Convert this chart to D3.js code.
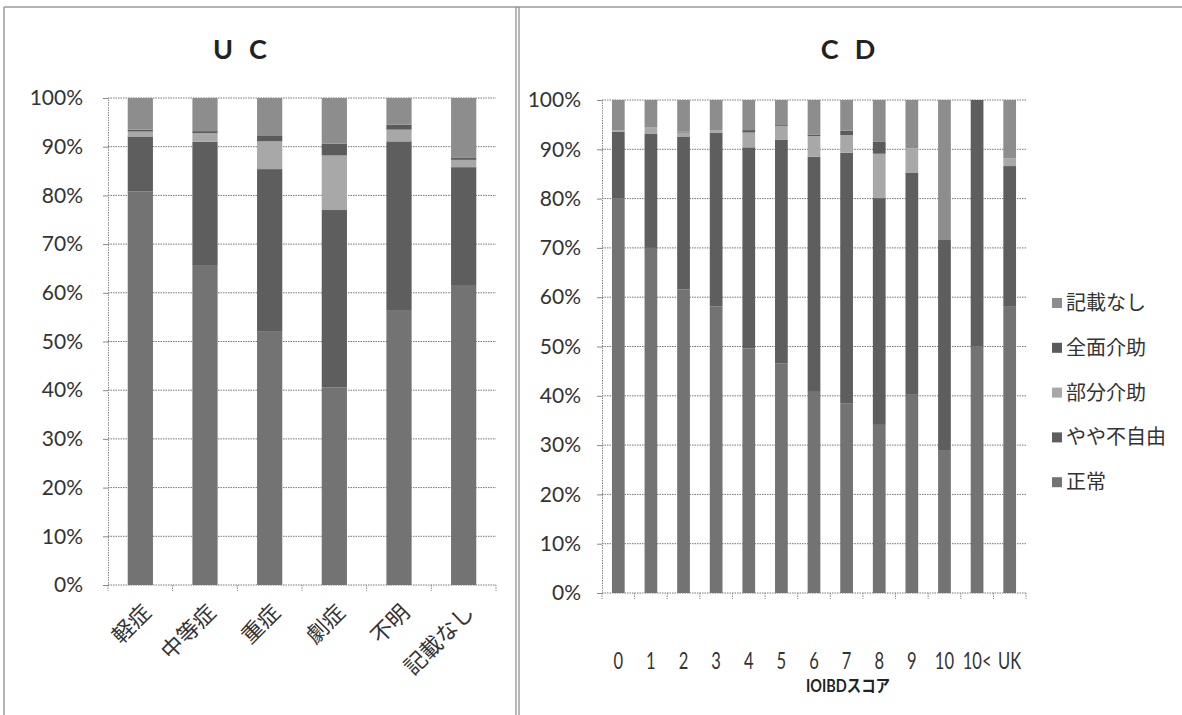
<!DOCTYPE html>
<html>
<head>
<meta charset="utf-8">
<script src="https://cdn.jsdelivr.net/npm/d3@7/dist/d3.min.js"></script>
<style>
  body { margin: 0; background: #fff; }
  svg text { font-family: Lato, "Noto Sans CJK JP", sans-serif; fill: #333; }
</style>
</head>
<body>
<svg id="chart"></svg>
<script>
const keys = ["正常", "やや不自由", "部分介助", "全面介助", "記載なし"];

// UC panel
const ucCategories = ["軽症", "中等症", "重症", "劇症", "不明", "記載なし"];
const ucNormal  = [80.8, 65.7, 52.0, 40.6, 56.3, 61.6];
const ucSlight  = [11.3, 25.3, 33.4, 36.4, 34.8, 24.2];
const ucPartial = [1.0, 1.8, 5.7, 11.2, 2.4, 1.5];
const ucFull    = [0.4, 0.4, 1.1, 2.4, 1.0, 0.4];
const ucNone    = [6.5, 6.8, 7.8, 9.4, 5.5, 12.3];

// CD panel
const cdCategories = ["0", "1", "2", "3", "4", "5", "6", "7", "8", "9", "10", "10<", "UK"];
const cdNormal  = [80.0, 70.0, 61.6, 58.1, 49.6, 46.6, 40.8, 38.5, 34.1, 40.2, 29.0, 50, 58.2];
const cdSlight  = [13.6, 23.1, 30.9, 35.3, 40.8, 45.3, 47.7, 50.8, 46.0, 45.1, 42.6, 50, 28.4];
const cdPartial = [0.3, 1.4, 0.9, 0.5, 3.0, 2.8, 4.2, 3.6, 9.0, 4.9, 0, 0, 1.6];
const cdFull    = [0, 0, 0.2, 0, 0.5, 0.2, 0.3, 0.9, 2.5, 0, 0, 0, 0];
const cdNone    = [6.1, 5.5, 6.4, 6.1, 6.1, 5.1, 7.0, 6.2, 8.4, 9.8, 28.4, 0, 11.8];

const yTicks = [0, 10, 20, 30, 40, 50, 60, 70, 80, 90, 100];

const colors = {
    "正常": "#737373",
    "やや不自由": "#5e5e5e",
    "部分介助": "#a8a8a8",
    "全面介助": "#5b5b5b",
    "記載なし": "#8d8d8d"
};

const width = 1182;
const height = 715;

const svg = d3.select("#chart")
    .attr("width", width)
    .attr("height", height);

// frame lines from the scan
svg.append("line").attr("x1", 4).attr("x2", width).attr("y1", 7).attr("y2", 7)
    .attr("stroke", "#999").attr("stroke-width", 1.5);
svg.append("line").attr("x1", 4).attr("x2", 4).attr("y1", 7).attr("y2", height)
    .attr("stroke", "#999").attr("stroke-width", 1.5);
[516, 519].forEach(x => {
    svg.append("line").attr("x1", x).attr("x2", x).attr("y1", 7).attr("y2", height)
        .attr("stroke", "#888").attr("stroke-width", 1.2);
});

const buildRows = (cats, a, b, c, d, e) => cats.map((cat, i) => ({
    cat: cat,
    "正常": a[i], "やや不自由": b[i], "部分介助": c[i], "全面介助": d[i], "記載なし": e[i]
}));

const drawPanel = (opt) => {
    const rows = buildRows(opt.cats, ...opt.series);
    const series = d3.stack().keys(keys)(rows);

    const x = d3.scaleBand()
        .domain(opt.cats)
        .range([opt.x0, opt.x1])
        .paddingInner(0.61)
        .paddingOuter(0.305);

    const y = d3.scaleLinear()
        .domain([0, 100])
        .range([opt.y0, opt.y1]);

    const g = svg.append("g");

    // gridlines
    g.selectAll(".grid")
        .data(yTicks.filter(t => t > 0))
        .enter()
        .append("line")
        .attr("x1", opt.x0)
        .attr("x2", opt.x1)
        .attr("y1", t => y(t))
        .attr("y2", t => y(t))
        .attr("stroke", "#777")
        .attr("stroke-width", 1)
        .attr("stroke-dasharray", "1.5,1");

    // y axis
    const yAxis = g.append("g")
        .attr("transform", `translate(${opt.x0}, 0)`)
        .call(d3.axisLeft(y).tickValues(yTicks).tickFormat(d => d + "%").tickSize(5).tickPadding(opt.labelPad));
    yAxis.select(".domain").attr("stroke", "#888").attr("stroke-dasharray", "1.5,1");
    yAxis.selectAll(".tick line").attr("stroke", "#888");
    yAxis.selectAll("text")
        .attr("font-size", 21)
        .attr("fill", "#333")
        .style("font-family", "Lato, sans-serif");

    // bars
    g.selectAll(".layer")
        .data(series)
        .enter()
        .append("g")
        .attr("fill", s => colors[s.key])
        .selectAll("rect")
        .data(s => s)
        .enter()
        .append("rect")
        .attr("x", d => x(d.data.cat))
        .attr("width", x.bandwidth())
        .attr("y", d => y(d[1]))
        .attr("height", d => y(d[0]) - y(d[1]));

    // x axis line + boundary ticks
    g.append("line")
        .attr("x1", opt.x0).attr("x2", opt.x1)
        .attr("y1", opt.y0).attr("y2", opt.y0)
        .attr("stroke", "#777").attr("stroke-dasharray", "1.5,1");
    const step = x.step();
    g.selectAll(".xtick")
        .data(d3.range(opt.cats.length + 1))
        .enter()
        .append("line")
        .attr("x1", i => opt.x0 + i * step)
        .attr("x2", i => opt.x0 + i * step)
        .attr("y1", opt.y0)
        .attr("y2", opt.y0 + 6)
        .attr("stroke", "#888")
        .attr("stroke-dasharray", "1.5,1");

    // title
    svg.append("text")
        .attr("x", opt.titleX)
        .attr("y", 59)
        .attr("text-anchor", "middle")
        .attr("font-size", 27)
        .attr("font-weight", "bold")
        .attr("letter-spacing", 16)
        .style("fill", "#222")
        .text(opt.title);

    return { g, x, y };
};

// UC
const uc = drawPanel({
    cats: ucCategories,
    series: [ucNormal, ucSlight, ucPartial, ucFull, ucNone],
    x0: 108, x1: 496, y0: 585, y1: 98, labelPad: 20,
    title: "UC", titleX: 248
});
uc.g.selectAll(".xlabel")
    .data(ucCategories)
    .enter()
    .append("text")
    .attr("transform", d => `translate(${uc.x(d) + uc.x.bandwidth() / 2 + 12}, 614) rotate(-45)`)
    .attr("text-anchor", "end")
    .attr("font-size", 22)
    .style("font-family", "'Noto Sans CJK JP', sans-serif")
    .text(d => d);

// CD
const cd = drawPanel({
    cats: cdCategories,
    series: [cdNormal, cdSlight, cdPartial, cdFull, cdNone],
    x0: 602, x1: 1026, y0: 593, y1: 100, labelPad: 16,
    title: "CD", titleX: 856
});
cd.g.selectAll(".xlabel")
    .data(cdCategories)
    .enter()
    .append("text")
    .attr("transform", d => `translate(${cd.x(d) + cd.x.bandwidth() / 2}, 669) scale(0.72, 1)`)
    .attr("text-anchor", "middle")
    .attr("font-size", 23)
    .text(d => d);

svg.append("text")
    .attr("transform", "translate(848, 692) scale(0.85, 1)")
    .attr("text-anchor", "middle")
    .attr("font-size", 17)
    .attr("font-weight", "bold")
    .style("fill", "#222")
    .text("IOIBDスコア");

// legend
const legendKeys = keys.slice().reverse();
const legend = svg.append("g").attr("transform", "translate(1052, 303)");
legend.selectAll("rect")
    .data(legendKeys)
    .enter()
    .append("rect")
    .attr("x", 0)
    .attr("y", (d, i) => i * 44.8 - 5)
    .attr("width", 10)
    .attr("height", 10)
    .attr("fill", d => colors[d]);
legend.selectAll("text")
    .data(legendKeys)
    .enter()
    .append("text")
    .attr("x", 14)
    .attr("y", (d, i) => i * 44.8 + 7)
    .attr("font-size", 20)
    .style("font-family", "'Noto Sans CJK JP', sans-serif")
    .text(d => d);
</script>
</body>
</html>
